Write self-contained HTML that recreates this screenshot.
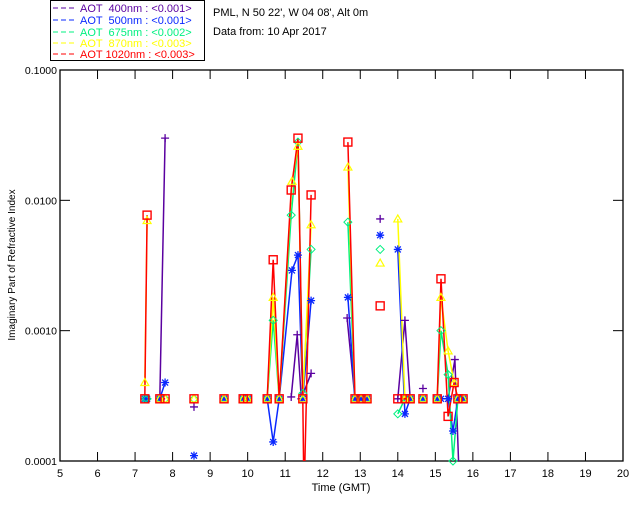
<!DOCTYPE html>
<html><head><meta charset="utf-8">
<style>
body{margin:0;background:#fff;}
svg{display:block;font-family:"Liberation Sans",sans-serif;}
</style></head>
<body>
<svg id="chart" width="640" height="512" viewBox="0 0 640 512">
  <rect x="0" y="0" width="640" height="512" fill="#fff"/>
  <g>
    <rect x="50.5" y="0.5" width="154" height="60" fill="#fff" stroke="#000" stroke-width="1"/>
    <g font-size="11">
      <g><line x1="53" y1="8" x2="76" y2="8" stroke="#5a00a0" stroke-dasharray="5,3"/><text x="80" y="12" fill="#5a00a0" xml:space="preserve">AOT  400nm : &lt;0.001&gt;</text></g>
      <g><line x1="53" y1="20" x2="76" y2="20" stroke="#0a28ff" stroke-dasharray="5,3"/><text x="80" y="24" fill="#0a28ff" xml:space="preserve">AOT  500nm : &lt;0.001&gt;</text></g>
      <g><line x1="53" y1="32" x2="76" y2="32" stroke="#00f080" stroke-dasharray="5,3"/><text x="80" y="36" fill="#00f080" xml:space="preserve">AOT  675nm : &lt;0.002&gt;</text></g>
      <g><line x1="53" y1="43" x2="76" y2="43" stroke="#ffff00" stroke-dasharray="5,3"/><text x="80" y="47" fill="#ffff00" xml:space="preserve">AOT  870nm : &lt;0.003&gt;</text></g>
      <g><line x1="53" y1="54" x2="76" y2="54" stroke="#ff0000" stroke-dasharray="5,3"/><text x="80" y="58" fill="#ff0000" xml:space="preserve">AOT 1020nm : &lt;0.003&gt;</text></g>
    </g>
  </g>
  <text x="213" y="16" font-size="11">PML, N 50 22', W 04 08', Alt 0m</text>
  <text x="213" y="35" font-size="11">Data from: 10 Apr 2017</text>
  <defs><clipPath id="clip"><rect x="60" y="70" width="563" height="391"/></clipPath></defs>
  <g id="axes"></g>
  <g id="series" clip-path="url(#clip)"></g>
  <g id="markers"></g>
  <text x="341" y="491" font-size="11" text-anchor="middle">Time (GMT)</text>
  <text transform="translate(15,265) rotate(-90)" font-size="10" text-anchor="middle">Imaginary Part of Refractive Index</text>
</svg>
<script>
const xTicks=[5,6,7,8,9,10,11,12,13,14,15,16,17,18,19,20];
const yTicks=[0.0001,0.001,0.01,0.1];
const yTickLabels=["0.0001","0.0010","0.0100","0.1000"];
const t400=[7.66,7.80,null,8.57,null,11.16,11.32,11.43,11.69,null,12.65,12.86,13.02,13.18,null,13.53,null,14.0,14.19,14.33,null,14.67,null,15.05,15.15,15.34,15.52,15.63];
const v400=[0.0003,0.03,null,0.00026,null,0.00031,0.00093,0.0003,0.00047,null,0.00125,0.0003,0.0003,0.0003,null,0.0072,null,0.0003,0.0012,0.0003,null,0.00036,null,0.0003,0.0003,0.0003,0.0006,0.00008];
const t500=[7.26,7.32,null,7.66,7.80,null,8.57,null,9.37,null,9.88,10.0,null,10.52,10.68,10.84,11.18,11.34,11.47,11.69,null,12.67,12.86,13.02,13.18,null,13.53,null,14.0,14.19,14.33,null,14.67,null,15.05,15.15,15.34,15.47,15.6,15.74];
const v500=[0.0003,0.0003,null,0.0003,0.0004,null,0.00011,null,0.0003,null,0.0003,0.0003,null,0.0003,0.00014,0.0003,0.0029,0.0038,0.0003,0.0017,null,0.0018,0.0003,0.0003,0.0003,null,0.0054,null,0.0042,0.00023,0.0003,null,0.0003,null,0.0003,0.0003,0.0003,0.00017,0.0003,0.0003];
const t675=[7.26,7.32,null,7.66,7.80,null,8.57,null,9.37,null,9.88,10.0,null,10.52,10.68,10.84,11.16,11.34,11.47,11.69,null,12.67,12.86,13.02,13.18,null,13.53,null,14.0,14.19,14.33,null,14.67,null,15.05,15.15,15.34,15.47,15.6,15.74];
const v675=[0.0003,0.0003,null,0.0003,0.0003,null,0.0003,null,0.0003,null,0.0003,0.0003,null,0.0003,0.0012,0.0003,0.0077,0.028,0.00033,0.0042,null,0.0068,0.0003,0.0003,0.0003,null,0.0042,null,0.00023,0.0003,0.0003,null,0.0003,null,0.0003,0.001,0.00046,0.0001,0.0003,0.0003];
const t870=[7.26,7.32,null,7.66,7.80,null,8.57,null,9.37,null,9.88,10.0,null,10.52,10.68,10.84,11.18,11.34,11.47,11.69,null,12.67,12.86,13.02,13.18,null,13.53,null,14.0,14.19,14.33,null,14.67,null,15.05,15.15,15.34,15.5,15.6,15.74];
const v870=[0.0004,0.007,null,0.0003,0.0003,null,0.0003,null,0.0003,null,0.0003,0.0003,null,0.0003,0.0018,0.0003,0.014,0.026,0.0003,0.0065,null,0.018,0.0003,0.0003,0.0003,null,0.0033,null,0.0072,0.0003,0.0003,null,0.0003,null,0.0003,0.0018,0.0007,0.0004,0.0003,0.0003];
const t1020=[7.26,7.32,null,7.66,7.80,null,8.57,null,9.37,null,9.88,10.0,null,10.52,10.68,10.84,11.16,11.34,11.47,11.5,11.69,null,12.67,12.86,13.02,13.18,null,13.53,null,14.0,14.19,14.33,null,14.67,null,15.05,15.15,15.34,15.5,15.6,15.74];
const v1020=[0.0003,0.0077,null,0.0003,0.0003,null,0.0003,null,0.0003,null,0.0003,0.0003,null,0.0003,0.0035,0.0003,0.012,0.03,0.0003,0.00005,0.011,null,0.028,0.0003,0.0003,0.0003,null,0.00155,null,0.0003,0.0003,0.0003,null,0.0003,null,0.0003,0.0025,0.00022,0.0004,0.0003,0.0003];

const X0=60,X1=623,Y0=70,Y1=461;
const xs=t=>X0+(t-5)/15*(X1-X0);
const ys=v=>Y0+(-1-Math.log10(v))/3*(Y1-Y0);
const NS="http://www.w3.org/2000/svg";
function mk(tag,attrs,parent){const e=document.createElementNS(NS,tag);for(const k in attrs)e.setAttribute(k,attrs[k]);parent.appendChild(e);return e;}
const axes=document.getElementById('axes');
const frame=mk('rect',{x:X0,y:Y0,width:X1-X0,height:Y1-Y0,fill:'none',stroke:'#000','stroke-width':1.3},axes);


xTicks.forEach(t=>{
  const x=xs(t);
  const tb=mk('line',{x1:x,y1:Y1,x2:x,y2:Y1-9,stroke:'#000'},axes);
  
  
  const tt=mk('line',{x1:x,y1:Y0,x2:x,y2:Y0+9,stroke:'#000'},axes);
  
  
  const lb=mk('text',{x:x,y:Y1+16,'font-size':11,'text-anchor':'middle'},axes);
  lb.textContent=t;
  
  
});
yTicks.forEach((v,i)=>{
  const y=ys(v);
  const tk=mk('line',{x1:X0,y1:y,x2:X0+10,y2:y,stroke:'#000'},axes);
  
  
  const tr=mk('line',{x1:X1,y1:y,x2:X1-10,y2:y,stroke:'#000'},axes);
  
  
  const lb=mk('text',{x:X0-3,y:y+4,'font-size':10.5,'text-anchor':'end'},axes);
  lb.textContent=yTickLabels[i];
  
  
});
const series=[
  {name:'400nm',t:t400,v:v400,c:'#5a00a0',m:'plus'},
  {name:'500nm',t:t500,v:v500,c:'#0a28ff',m:'star'},
  {name:'675nm',t:t675,v:v675,c:'#00f080',m:'diamond'},
  {name:'870nm',t:t870,v:v870,c:'#ffff00',m:'tri'},
  {name:'1020nm',t:t1020,v:v1020,c:'#ff0000',m:'square'}
];
const sg=document.getElementById('series'),mg=document.getElementById('markers');
series.forEach(s=>{
  let segs=[],cur=[];
  s.t.forEach((t,i)=>{if(t===null||s.v[i]===null){if(cur.length)segs.push(cur);cur=[];}else cur.push([xs(t),ys(s.v[i])]);});
  if(cur.length)segs.push(cur);
  segs.forEach(seg=>{
    if(seg.length<2)return;
    const p=mk('polyline',{points:seg.map(q=>q[0].toFixed(1)+','+q[1].toFixed(1)).join(' '),fill:'none',stroke:s.c,'stroke-width':1.5},sg);
    
    
  });
  s.t.forEach((t,i)=>{
    if(t===null||s.v[i]===null)return;
    const x=xs(t),y=ys(s.v[i]);
    if(y>Y1+2)return;
    let e;
    if(s.m==='plus')e=mk('path',{d:`M${x-4},${y}H${x+4}M${x},${y-4}V${y+4}`,stroke:s.c,'stroke-width':1.3,fill:'none'},mg);
    else if(s.m==='star')e=mk('path',{d:`M${x-4},${y}H${x+4}M${x},${y-4}V${y+4}M${x-3},${y-3}L${x+3},${y+3}M${x-3},${y+3}L${x+3},${y-3}`,stroke:s.c,'stroke-width':1.3,fill:'none'},mg);
    else if(s.m==='diamond')e=mk('path',{d:`M${x},${y-4}L${x+4},${y}L${x},${y+4}L${x-4},${y}Z`,stroke:s.c,'stroke-width':1,fill:'none'},mg);
    else if(s.m==='tri')e=mk('path',{d:`M${x},${y-4}L${x+4},${y+3}L${x-4},${y+3}Z`,stroke:s.c,'stroke-width':1.2,fill:'none'},mg);
    else e=mk('rect',{x:x-4,y:y-4,width:8,height:8,stroke:s.c,'stroke-width':1.4,fill:'none'},mg);
    
    
  });
});
</script>
</body></html>
